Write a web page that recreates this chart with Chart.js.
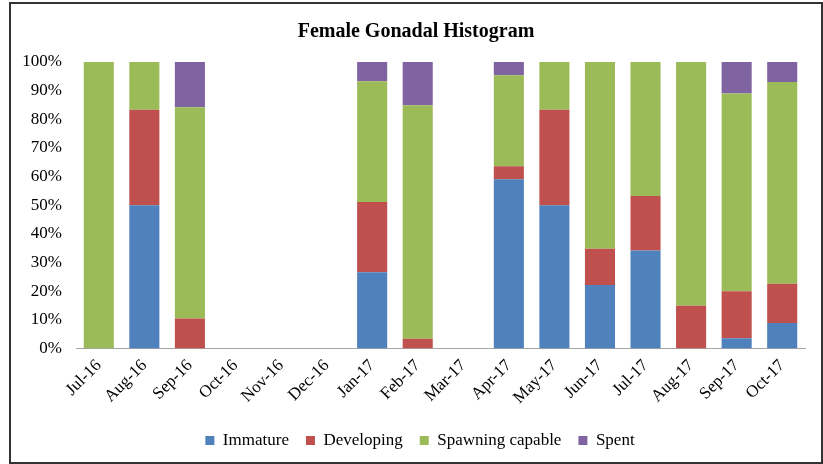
<!DOCTYPE html>
<html>
<head>
	<meta charset="utf-8">
	<title>Female Gonadal Histogram</title>
	<script src="https://cdn.jsdelivr.net/npm/chart.js"></script>
	<style>
		body {
			margin: 0;
			background: #fff;
		}

		.frame {
			position: absolute;
			left: 9px;
			top: 2px;
			width: 814px;
			height: 462px;
			border: 2px solid #333;
			box-sizing: border-box;
		}
	</style>
</head>

<body>
	<div class="frame">
		<canvas id="myChart"></canvas>
	</div>

	<script>
		// months along the x axis
		var months = [ 'Jul-16', 'Aug-16', 'Sep-16', 'Oct-16', 'Nov-16', 'Dec-16', 'Jan-17', 'Feb-17',
			'Mar-17', 'Apr-17', 'May-17', 'Jun-17', 'Jul-17', 'Aug-17', 'Sep-17', 'Oct-17' ];

		// percent of females in each stage
		var immature   = [ 0, 50.0, 0,    0, 0, 0, 26.6, 0,    0, 59.1, 50.0, 22.2, 34.2, 0,    3.6,  8.9 ];
		var developing = [ 0, 33.3, 10.5, 0, 0, 0, 24.5, 3.4,  0, 4.5,  33.3, 12.6, 19.0, 14.9, 16.4, 13.7 ];
		var spawning   = [ 100, 16.7, 73.7, 0, 0, 0, 42.2, 81.5, 0, 31.8, 16.7, 65.2, 46.8, 85.1, 69.0, 70.4 ];
		var spent      = [ 0, 0,    15.8, 0, 0, 0, 6.7,  15.1, 0, 4.6,  0,    0,    0,    0,    11.0, 7.0 ];

		var yTicks = [ 0, 10, 20, 30, 40, 50, 60, 70, 80, 90, 100 ];

		var serif = '"Liberation Serif", "Times New Roman", serif';

		Chart.defaults.font.family = serif;
		Chart.defaults.color = '#000';

		// nudge title and legend so they sit centred like the original
		const nudge = {
			id: 'nudge',
			afterLayout: function( chart ) {
				chart.titleBlock.left += 8;
				chart.titleBlock.right += 8;
				chart.legend.left += 12;
				chart.legend.right += 12;
			}
		};

		const ctx = document.getElementById( 'myChart' );

		new Chart( ctx, {
			type: 'bar',
			data: {
				labels: months,
				datasets: [
					{ label: 'Immature', data: immature, backgroundColor: '#4F81BD' },
					{ label: 'Developing', data: developing, backgroundColor: '#C0504D' },
					{ label: 'Spawning capable', data: spawning, backgroundColor: '#9BBB59' },
					{ label: 'Spent', data: spent, backgroundColor: '#8064A2' }
				]
			},
			options: {
				responsive: true,
				maintainAspectRatio: false,
				animation: false,
				categoryPercentage: 1,
				barPercentage: 0.66,
				layout: {
					padding: { left: 0, right: 16, top: 0, bottom: 3 }
				},
				plugins: {
					title: {
						display: true,
						text: 'Female Gonadal Histogram',
						color: '#000',
						font: { size: 20, weight: 'bold', family: serif },
						padding: { top: 16, bottom: 18 }
					},
					legend: {
						position: 'bottom',
						labels: {
							boxWidth: 9,
							boxHeight: 9,
							padding: 17,
							font: { size: 17, family: serif }
						}
					},
					tooltip: { enabled: false }
				},
				scales: {
					x: {
						stacked: true,
						grid: { display: false, drawTicks: false },
						border: { display: true, color: '#a6a6a6', width: 1 },
						ticks: {
							maxRotation: 45,
							minRotation: 45,
							padding: 7,
							font: { size: 17 }
						}
					},
					y: {
						stacked: true,
						min: 0,
						max: 100,
						grid: { display: false, drawTicks: false },
						border: { display: false },
						afterBuildTicks: function( scale ) {
							scale.ticks = yTicks.map( function( v ) { return { value: v }; } );
						},
						afterFit: function( scale ) {
							scale.width = 65;
						},
						ticks: {
							padding: 14,
							font: { size: 17 },
							callback: function( v ) { return v + '%'; }
						}
					}
				}
			},
			plugins: [ nudge ]
		});
	</script>
</body>
</html>
